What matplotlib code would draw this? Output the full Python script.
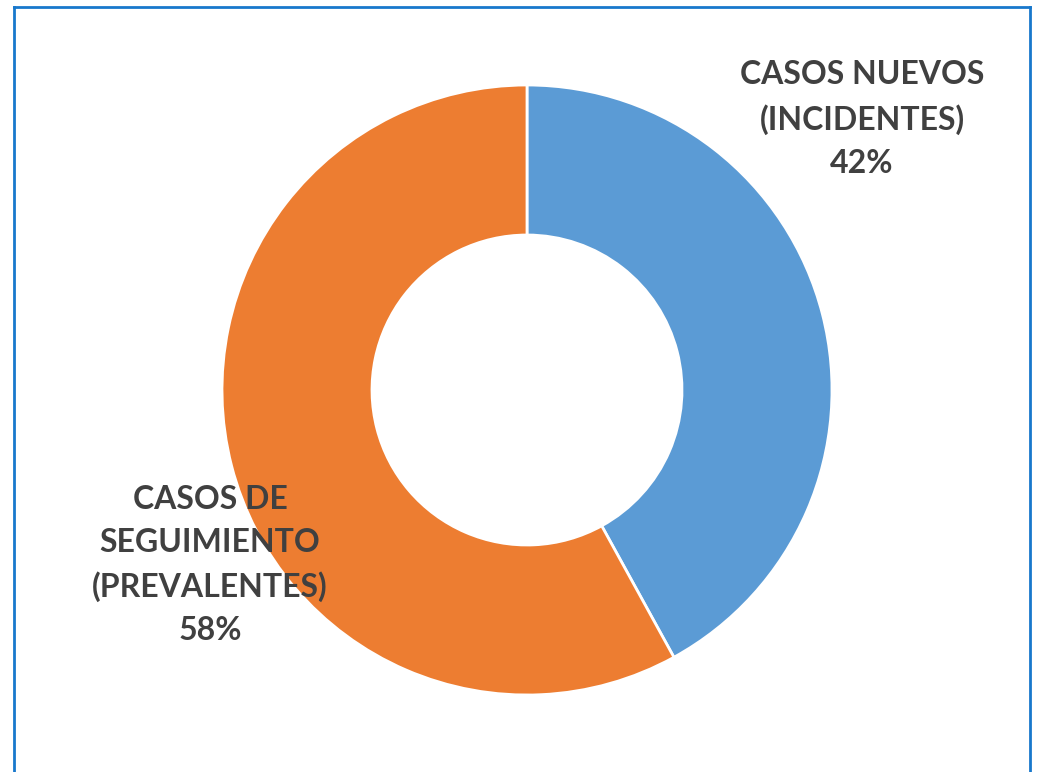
import matplotlib.pyplot as plt
from matplotlib.lines import Line2D

categories = ["CASOS NUEVOS\n(INCIDENTES)", "CASOS DE\nSEGUIMIENTO\n(PREVALENTES)"]
values = [42, 58]
colors = ["#5B9BD5", "#ED7D31"]

W, H = 1038, 772
fig = plt.figure(figsize=(W / 100, H / 100), dpi=100)
ax = fig.add_axes([0, 0, 1, 1])

cx, cy = 527, H - 390
R = 305
ax.pie(values, colors=colors, startangle=90, counterclock=False,
       radius=R, center=(cx, cy), frame=True,
       wedgeprops=dict(width=150, edgecolor="white", linewidth=2))
ax.set_xlim(0, W)
ax.set_ylim(0, H)
ax.set_aspect("equal")
ax.axis("off")

# label positions (pixels from top)
label_pos = [(862, 119), (210, 565)]
for cat, v, (lx, ly) in zip(categories, values, label_pos):
    ax.text(lx, H - ly, f"{cat}\n{v}%", ha="center", va="center",
            fontsize=23, fontweight="bold", color="#404040",
            family="Lato", linespacing=1.58)

# blue frame (left, top, right)
bc = "#1878CC"
fig.add_artist(Line2D([14 / W, 14 / W], [0, 1 - 7 / H], transform=fig.transFigure, color=bc, lw=2))
fig.add_artist(Line2D([14 / W, 1030 / W], [1 - 7 / H, 1 - 7 / H], transform=fig.transFigure, color=bc, lw=2))
fig.add_artist(Line2D([1030 / W, 1030 / W], [0, 1 - 7 / H], transform=fig.transFigure, color=bc, lw=2))

fig.savefig("out.png", dpi=100)
